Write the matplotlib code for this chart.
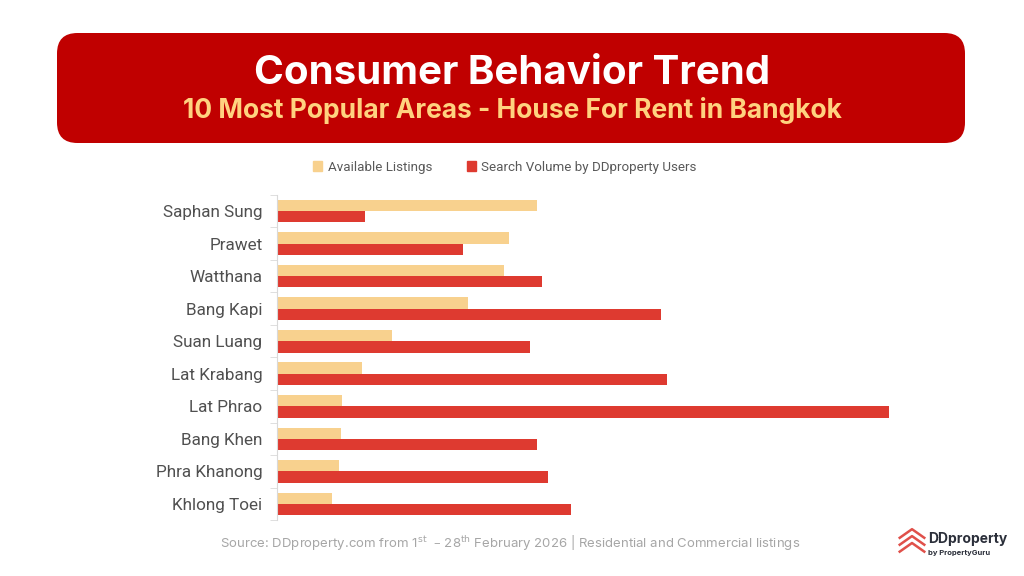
import matplotlib
matplotlib.use("Agg")
import matplotlib.pyplot as plt
from matplotlib.patches import FancyBboxPatch, Patch
import numpy as np

categories = ["Saphan Sung", "Prawet", "Watthana", "Bang Kapi", "Suan Luang",
              "Lat Krabang", "Lat Phrao", "Bang Khen", "Phra Khanong", "Khlong Toei"]
available_listings = [260, 232, 227, 191, 115, 85, 65, 64, 62, 55]
search_volume = [88, 186, 265, 384, 253, 390, 612, 260, 271, 294]
series_names = ["Available Listings", "Search Volume by DDproperty Users"]

title = "Consumer Behavior Trend"
subtitle = "10 Most Popular Areas - House For Rent in Bangkok"
source = ("Source: DDproperty.com from 1$^{\\mathrm{st}}$  \u2013 28$^{\\mathrm{th}}$ "
          "February 2026 | Residential and Commercial listings")

c_avail = "#F8D18E"
c_search = "#DE3A30"
c_banner = "#C00000"

fig = plt.figure(figsize=(10.24, 5.76), dpi=100)
fig.patch.set_facecolor("white")

# Banner
banner = FancyBboxPatch((57/1024, 1-143/576), (965-57)/1024, (143-33)/576,
                        boxstyle="round,pad=0,rounding_size=0.02",
                        transform=fig.transFigure, facecolor=c_banner,
                        edgecolor="none", mutation_aspect=1024/576)
fig.patches.append(banner)
fig.text(0.5, 1-73/576, title, ha="center", va="center", color="white",
         fontsize=29, fontweight="bold", family="Inter")
fig.text(0.5, 1-111/576, subtitle, ha="center", va="center", color="#FFD27F",
         fontsize=19, fontweight="bold", family="Inter")

# Chart
ax = fig.add_axes([277/1024, 0.0967, 650/1024, 0.662-0.0967])
y = np.arange(len(categories))
h = 0.35
ax.barh(y - h/2, available_listings, height=h, color=c_avail, label=series_names[0])
ax.barh(y + h/2, search_volume, height=h, color=c_search, label=series_names[1])
ax.set_ylim(len(categories) - 0.5, -0.5)
ax.set_xlim(0, 650)
ax.set_yticks(y)
ax.set_yticklabels(categories, fontsize=12.3, color="#505050", family="Roboto")
ax.set_yticks(np.arange(len(categories) + 1) - 0.5, minor=True)
ax.tick_params(axis="y", which="major", length=0, pad=10.5)
ax.tick_params(axis="y", which="minor", length=5, color="#D9D9D9", direction="out")
ax.set_xticks([])
for s in ["top", "right", "bottom"]:
    ax.spines[s].set_visible(False)
ax.spines["left"].set_color("#D9D9D9")
ax.spines["left"].set_linewidth(0.8)

handles = [Patch(color=c_avail, label=series_names[0]),
           Patch(color=c_search, label=series_names[1])]
fig.legend(handles=handles, loc="center", bbox_to_anchor=(0.493, 1-167/576),
           ncol=2, frameon=False, prop={"family": "Roboto", "size": 9.6},
           handlelength=0.7, handleheight=0.7, handletextpad=0.4, columnspacing=2.6,
           labelcolor="#595959")

fig.text(510/1024, 1-542/576, source, ha="center", va="center", color="#A6A6A6",
         fontsize=9.5, family="Inter")

# Logo
lx, ly = 912/1024, 1-543/576
for i, dy in enumerate([0.0, 0.012, 0.024]):
    xs = [lx - 0.012, lx, lx + 0.012]
    ys = [ly - 0.015 + dy, ly + dy, ly - 0.015 + dy]
    fig.lines.append(plt.Line2D(xs, ys, transform=fig.transFigure, color="#E0504A", lw=1.8))
fig.text(928/1024, 1-539/576, "DDproperty", ha="left", va="center", color="#2B2F3A",
         fontsize=10, fontweight="bold", family="Inter")
fig.text(928/1024, 1-553/576, "by PropertyGuru", ha="left", va="center", color="#2B2F3A",
         fontsize=5.5, fontweight="bold", family="Inter")

fig.savefig("out.png", dpi=100, facecolor="white")
